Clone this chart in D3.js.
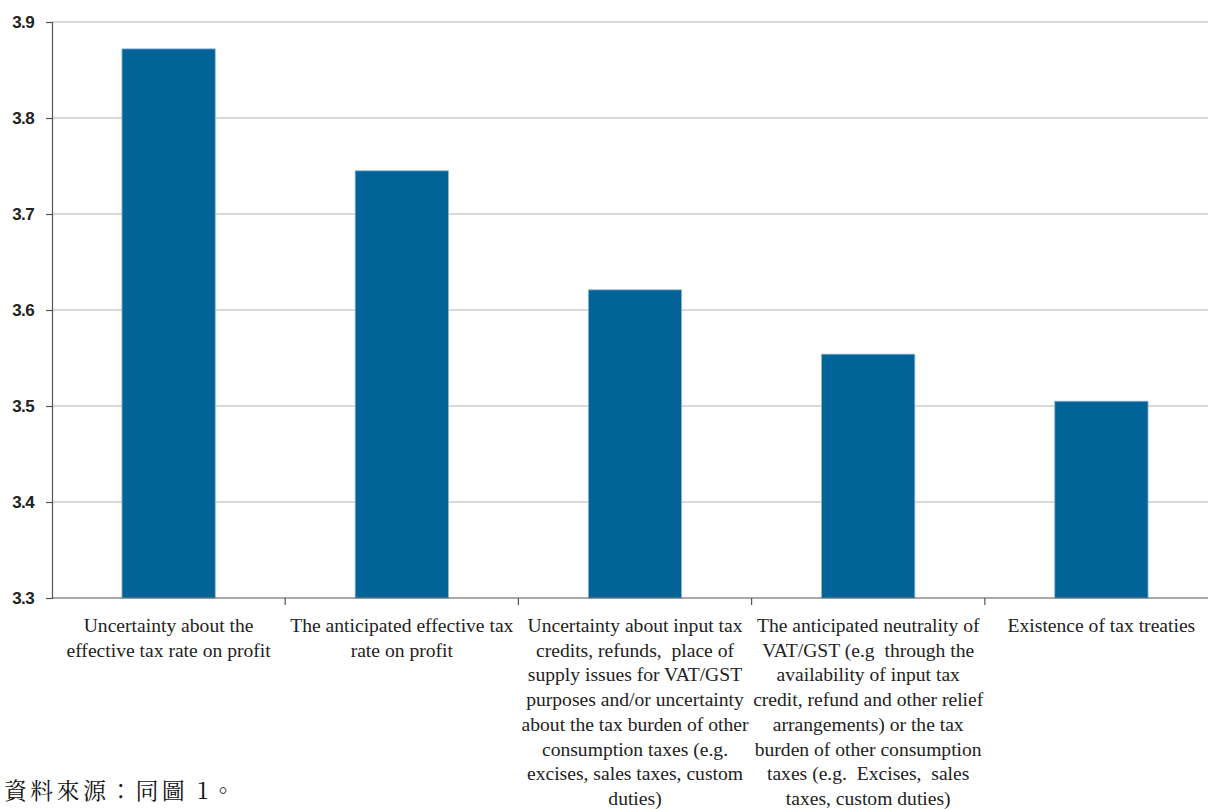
<!DOCTYPE html>
<html><head><meta charset="utf-8">
<script src="https://cdn.jsdelivr.net/npm/d3@7"></script>
<style>
html,body{margin:0;padding:0;background:#fff;}
svg{display:block;}
text{white-space:pre;}
</style></head>
<body>
<svg id="chart" width="1208" height="809"></svg>
<script>
const categories = [
  ["Uncertainty about the", "effective tax rate on profit"],
  ["The anticipated effective tax", "rate on profit"],
  ["Uncertainty about input tax", "credits, refunds,  place of", "supply issues for VAT/GST", "purposes and/or uncertainty", "about the tax burden of other", "consumption taxes (e.g.", "excises, sales taxes, custom", "duties)"],
  ["The anticipated neutrality of", "VAT/GST (e.g  through the", "availability of input tax", "credit, refund and other relief", "arrangements) or the tax", "burden of other consumption", "taxes (e.g.  Excises,  sales", "taxes, custom duties)"],
  ["Existence of tax treaties"]
];
const values = [3.872, 3.745, 3.621, 3.554, 3.505];
const yTicks = [3.3, 3.4, 3.5, 3.6, 3.7, 3.8, 3.9];
const sourceText = "資料來源：同圖 1。";

const svg = d3.select("#chart");
const m = {left: 52, right: 1218, top: 22, bottom: 598};

const x = d3.scaleBand().domain(d3.range(values.length)).range([m.left, m.right]).paddingInner(0.6).paddingOuter(0.3);
const y = d3.scaleLinear().domain([3.3, 3.9]).range([m.bottom, m.top]);

// gridlines
svg.append("g").selectAll("line").data(yTicks.slice(1)).join("line")
  .attr("x1", m.left).attr("x2", m.right)
  .attr("y1", d => y(d)).attr("y2", d => y(d))
  .attr("stroke", "#b4b4b4").attr("stroke-width", 1.2);

// bars
svg.append("g").selectAll("rect").data(values).join("rect")
  .attr("x", (d, i) => x(i)).attr("width", x.bandwidth())
  .attr("y", d => y(d)).attr("height", d => y(3.3) - y(d))
  .attr("fill", "#026399").attr("stroke", "#8fb6d0").attr("stroke-width", 0.8);

// y axis
const yAxis = d3.axisLeft(y).tickValues(yTicks).tickFormat(d3.format(".1f")).tickSize(6).tickPadding(12);
const gy = svg.append("g").attr("transform", `translate(${m.left},0)`).call(yAxis);
gy.select(".domain").attr("stroke", "#555").attr("stroke-width", 1.2);
gy.selectAll(".tick line").attr("stroke", "#555").attr("stroke-width", 1.2);
gy.selectAll(".tick text")
  .attr("font-family", "'Liberation Sans Narrow', 'Liberation Sans', Arial, sans-serif")
  .attr("font-weight", "bold").attr("font-size", 17).attr("fill", "#222")
  .attr("letter-spacing", -0.6);

// x axis
const bounds = d3.range(values.length + 1).map(i => m.left + i * x.step());
svg.append("line").attr("x1", m.left).attr("x2", m.right).attr("y1", m.bottom).attr("y2", m.bottom)
  .attr("stroke", "#555").attr("stroke-width", 1.2);
svg.append("g").selectAll("line").data(bounds.slice(1)).join("line")
  .attr("x1", d => d).attr("x2", d => d).attr("y1", m.bottom).attr("y2", m.bottom + 7)
  .attr("stroke", "#555").attr("stroke-width", 1.2);

// category labels
const lab = svg.append("g").selectAll("text").data(categories).join("text")
  .attr("x", (d, i) => x(i) + x.bandwidth() / 2)
  .attr("y", 632)
  .attr("text-anchor", "middle")
  .attr("font-family", "'Liberation Serif', 'Times New Roman', serif")
  .attr("font-size", 19.6).attr("fill", "#222");
lab.selectAll("tspan").data(d => d).join("tspan")
  .attr("x", function() { return this.parentNode.getAttribute("x"); })
  .attr("dy", (d, i) => i === 0 ? 0 : 24.7)
  .text(d => d);

// source
svg.append("text").attr("x", 4).attr("y", 799)
  .attr("font-family", "'Noto Serif CJK TC', 'Noto Sans CJK TC', serif")
  .attr("font-size", 23).attr("letter-spacing", 3.3).attr("fill", "#111").text(sourceText);
</script>
</body></html>
